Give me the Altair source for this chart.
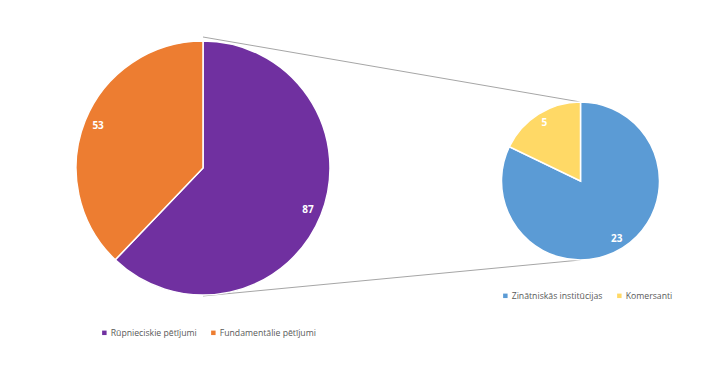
import altair as alt
import pandas as pd

# Data
main_cats = ["Rūpnieciskie pētījumi", "Fundamentālie pētījumi"]
main_vals = [87, 53]
main_colors = ["#7030a0", "#ed7d31"]

sub_cats = ["Zinātniskās institūcijas", "Komersanti"]
sub_vals = [23, 5]
sub_colors = ["#5b9bd5", "#ffd966"]

# Layout (chart coordinates)
CX1, CY1, R1 = 195, 160, 127
CX2, CY2, R2 = 572.5, 173, 79
FONT = "Open Sans"

df1 = pd.DataFrame({"cat": main_cats, "val": main_vals, "ord": list(range(len(main_cats)))})
df2 = pd.DataFrame({"cat": sub_cats, "val": sub_vals, "ord": list(range(len(sub_cats)))})


def pie(df, cats, colors, cx, cy, r, label_r, lx, ly):
    base = alt.Chart(df).encode(
        theta=alt.Theta("val:Q", stack=True),
        order=alt.Order("ord:Q"),
    )
    arc = base.mark_arc(radius=r, stroke="white", strokeWidth=1.5).encode(
        x=alt.value(cx),
        y=alt.value(cy),
        color=alt.Color(
            "cat:N",
            scale=alt.Scale(domain=cats, range=colors),
            sort=cats,
            legend=alt.Legend(
                title=None,
                orient="none",
                direction="horizontal",
                legendX=lx,
                legendY=ly,
                symbolType="square",
                symbolSize=20,
                symbolStrokeWidth=0,
                labelFont=FONT,
                labelFontSize=8.7,
                labelColor="#595959",
                labelOffset=2,
                columnPadding=12,
                padding=0,
            ),
        ),
    )
    text = base.mark_text(
        radius=label_r, color="white", font=FONT, fontSize=10, fontWeight="bold"
    ).encode(
        x=alt.value(cx),
        y=alt.value(cy),
        text=alt.Text("val:Q"),
    )
    return alt.layer(arc, text).resolve_scale(theta="shared")


left = pie(df1, main_cats, main_colors, CX1, CY1, R1, 113, 92, 320)
right = pie(df2, sub_cats, sub_colors, CX2, CY2, R2, 68, 493, 283)

top_line = alt.Chart(pd.DataFrame({"k": ["top"]})).mark_rule(color="#a6a6a6", strokeWidth=1).encode(
    x=alt.value(CX1), y=alt.value(CY1 - R1 - 4), x2=alt.value(CX2), y2=alt.value(CY2 - R2)
)
bottom_line = alt.Chart(pd.DataFrame({"k": ["bottom"]})).mark_rule(color="#a6a6a6", strokeWidth=1).encode(
    x=alt.value(CX1), y=alt.value(CY1 + R1 + 1), x2=alt.value(CX2), y2=alt.value(CY2 + R2)
)

chart = (
    alt.layer(top_line, bottom_line, left, right)
    .resolve_scale(theta="independent", color="independent")
    .properties(width=704, height=368, padding=0, autosize="none", background="white")
    .configure_view(stroke=None)
)

chart.save("out.html", embed_options={"renderer": "svg", "actions": False})
